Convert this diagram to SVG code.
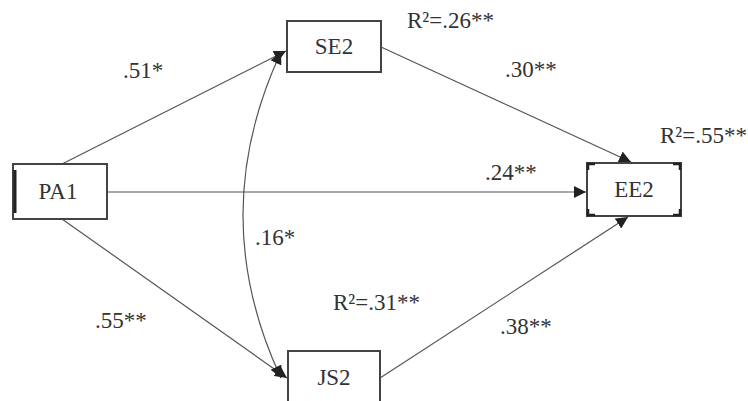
<svg xmlns="http://www.w3.org/2000/svg" width="748" height="401" viewBox="0 0 748 401">
<defs>
<marker id="ah" viewBox="0 0 10 10" refX="10" refY="5" markerWidth="12" markerHeight="12" markerUnits="userSpaceOnUse" orient="auto-start-reverse">
<path d="M0,0 L10,5 L0,10 Z" fill="#222"/>
</marker>
</defs>
<style>
.box{fill:#fff;stroke:#444;stroke-width:2}
.lbl{font-size:23px;fill:#333}
.c{fill:none;stroke:#555;stroke-width:1.2}
</style>
<rect width="748" height="401" fill="#fff"/>
<g id="connectors">
<line class="c" x1="62" y1="164" x2="286" y2="51" marker-end="url(#ah)"/>
<line class="c" x1="62" y1="219" x2="287" y2="378" marker-end="url(#ah)"/>
<line class="c" x1="107" y1="192" x2="586" y2="192" marker-end="url(#ah)"/>
<line class="c" x1="381" y1="47" x2="631" y2="162" marker-end="url(#ah)"/>
<line class="c" x1="380" y1="378" x2="628" y2="217" marker-end="url(#ah)"/>
<path class="c" d="M281,52 Q205,215 281,378" marker-start="url(#ah)" marker-end="url(#ah)"/>
</g>
<g font-family="'Liberation Serif', 'DejaVu Serif', serif">
<g id="PA1">
<rect class="box" x="13" y="164" width="94" height="55"/>
<line x1="15" y1="170" x2="15" y2="213" stroke="#222" stroke-width="3"/>
<text class="lbl" x="58" y="199" text-anchor="middle">PA1</text>
</g>
<g id="SE2">
<rect class="box" x="287" y="21" width="94" height="51"/>
<text class="lbl" x="334" y="54" text-anchor="middle">SE2</text>
</g>
<g id="EE2">
<rect class="box" x="587" y="163" width="94" height="53" stroke-width="1.2"/>
<path d="M588,170 V164 H595 M673,164 H680 V170 M588,209 V215 H595 M673,215 H680 V209" fill="none" stroke="#222" stroke-width="2.5"/>
<text class="lbl" x="634" y="197" text-anchor="middle">EE2</text>
</g>
<g id="JS2">
<rect class="box" x="288" y="351" width="92" height="60"/>
<text class="lbl" x="334" y="385" text-anchor="middle">JS2</text>
</g>
<g id="labels">
<text class="lbl" x="123" y="78">.51*</text>
<text class="lbl" x="505" y="77">.30**</text>
<text class="lbl" x="407" y="28">R²=.26**</text>
<text class="lbl" x="660" y="143">R²=.55**</text>
<text class="lbl" x="485" y="180">.24**</text>
<text class="lbl" x="255" y="245">.16*</text>
<text class="lbl" x="95" y="328">.55**</text>
<text class="lbl" x="333" y="310">R²=.31**</text>
<text class="lbl" x="500" y="334">.38**</text>
</g>
</g>
</svg>
